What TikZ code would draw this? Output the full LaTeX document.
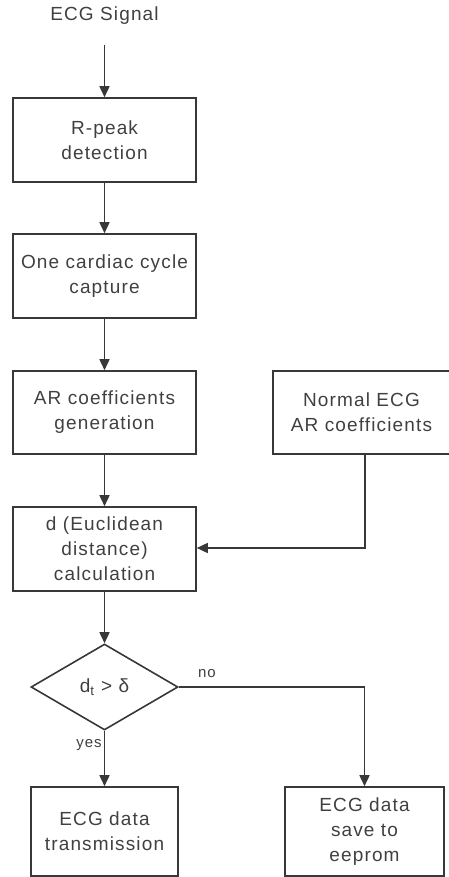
\documentclass[tikz,border=0pt]{standalone}
\usepackage{fontspec}
\setmainfont{Liberation Sans}[LetterSpace=6]
\usetikzlibrary{arrows.meta,shapes.geometric}
\definecolor{ink}{HTML}{383838}
\definecolor{txt}{HTML}{404040}
\tikzset{
  box/.style={draw=ink, line width=1.6pt, rectangle, align=center, text=txt,
    font=\fontsize{19}{25}\selectfont, inner sep=0pt},
  choice/.style={draw=ink, line width=1.6pt, diamond, aspect=1.7, text=txt,
    font=\fontsize{19}{25}\selectfont, inner sep=0pt},
  flow/.style={draw=ink, line width=1.6pt, -{Triangle[length=11pt,width=10pt]}},
  tag/.style={text=txt, font=\fontsize{15}{17}\selectfont, inner sep=0pt}
}
\begin{document}
\begin{tikzpicture}[x=1pt,y=-1pt]
\useasboundingbox (0,0) rectangle (449,877);

% input label and its lead-in point
\node[text=txt, font=\fontsize{19}{25}\selectfont] (src) at (104.5,16) {ECG Signal};
\coordinate (srcend) at (104.5,45);

% processing chain
\node[box, minimum width=183pt, minimum height=84pt] (rpk) at (104.5,140) {R-peak\\detection};
\node[box, minimum width=183pt, minimum height=84pt] (cyc) at (104.5,276) {One cardiac cycle\\capture};
\node[box, minimum width=183pt, minimum height=83pt] (arg) at (104.5,412.5) {AR coefficients\\generation};
\node[box, minimum width=177pt, minimum height=83pt] (nrm) at (361.5,412.5) {Normal ECG\\AR coefficients};
\node[box, minimum width=183pt, minimum height=84pt] (dist) at (104.5,549) {d (Euclidean\\distance)\\calculation};
\node[choice, minimum width=147pt, minimum height=86pt] (dec) at (104.5,687) {d\textsubscript{t} > δ};
\node[box, minimum width=147pt, minimum height=89pt] (tx) at (104.5,831.5) {ECG data\\transmission};
\node[box, minimum width=159pt, minimum height=89pt] (sav) at (364.5,831.5) {ECG data\\save to\\eeprom};

% bend points of the elbow connectors
\coordinate (nrmout) at (365,454);
\coordinate (nrmturn) at (365,548);
\coordinate (noturn) at (364.5,687);

\draw[flow] (srcend) -- (rpk.north);
\draw[flow] (rpk) -- (cyc);
\draw[flow] (cyc) -- (arg);
\draw[flow] (arg) -- (dist);
\draw[flow] (nrmout) -- (nrmturn) -- (dist.east |- nrmturn);
\draw[flow] (dist) -- (dec);
\draw[flow] (dec.south) -- (tx.north);
\draw[flow] (dec.east) -- (noturn) -- (sav.north);

% branch labels
\node[tag] (nolbl) at (207,674) {no};
\node[tag] (yeslbl) at (89,745) {yes};
\end{tikzpicture}
\end{document}
